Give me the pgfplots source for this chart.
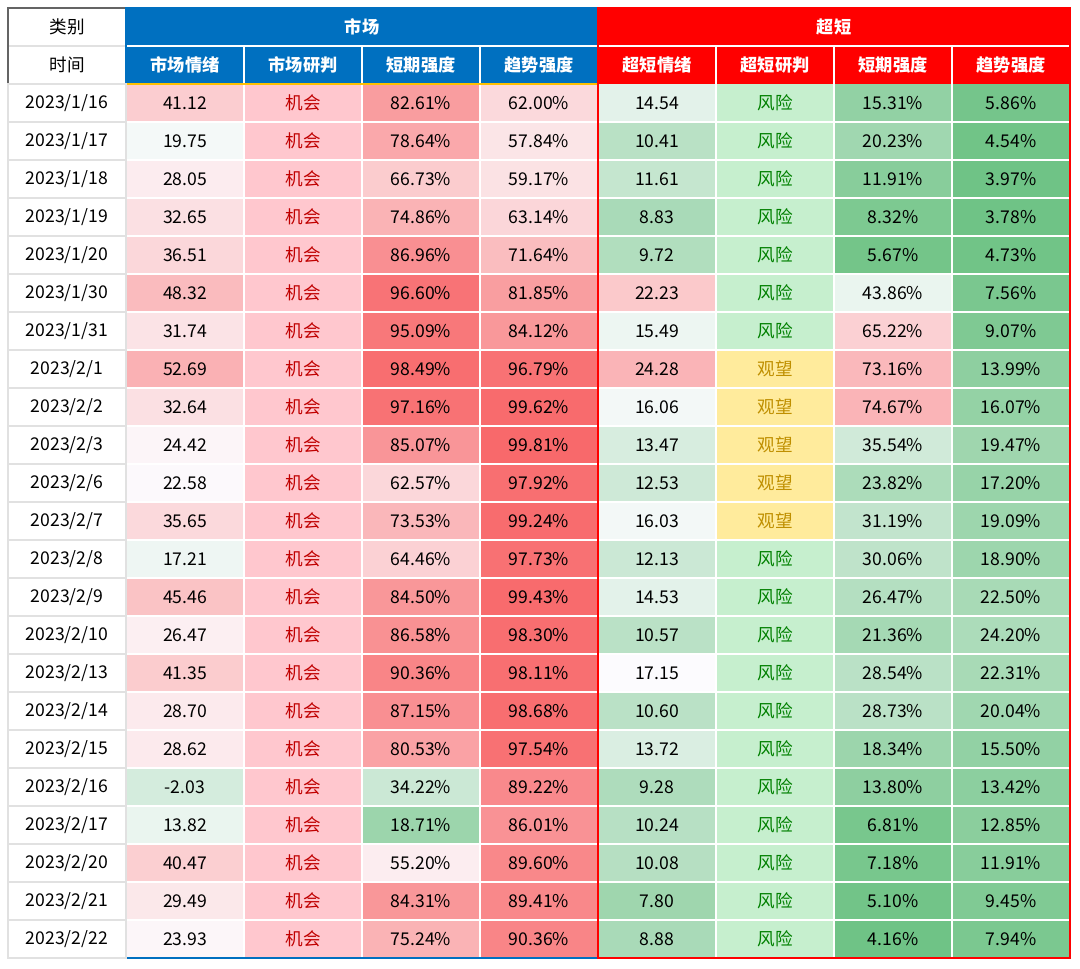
\documentclass[border=0pt]{standalone}
\usepackage{pgfplots}
\pgfplotsset{compat=1.18}
\usepackage{pgfplotstable}
\usepackage{fontspec}
\setmainfont{Noto Sans CJK SC}
\definecolor{hdrBlue}{RGB}{0,112,192}
\definecolor{hdrRed}{RGB}{255,0,0}
\definecolor{t机会}{RGB}{192,0,0}
\definecolor{t风险}{RGB}{0,128,0}
\definecolor{t观望}{RGB}{191,143,0}
\definecolor{goldline}{RGB}{255,192,0}
\definecolor{frameGray}{RGB}{100,100,100}
\definecolor{rowline}{RGB}{225,225,225}

\newcommand\dfont{\fontsize{8.8}{10}\selectfont}
\newcommand\hfont{\fontsize{8.6}{10}\selectfont\bfseries}

\pgfdeclareplotmark{cell}{%
  \pgfpathrectangle{\pgfpoint{-29.5pt}{-9.5pt}}{\pgfpoint{59pt}{19pt}}%
  \pgfusepathqfillstroke}

% values shown in the table
\pgfplotstableread{
r date mq mj mp mt sq sj sp st
0 2023/1/16 41.12 机会 82.61 62.00 14.54 风险 15.31 5.86
1 2023/1/17 19.75 机会 78.64 57.84 10.41 风险 20.23 4.54
2 2023/1/18 28.05 机会 66.73 59.17 11.61 风险 11.91 3.97
3 2023/1/19 32.65 机会 74.86 63.14 8.83 风险 8.32 3.78
4 2023/1/20 36.51 机会 86.96 71.64 9.72 风险 5.67 4.73
5 2023/1/30 48.32 机会 96.60 81.85 22.23 风险 43.86 7.56
6 2023/1/31 31.74 机会 95.09 84.12 15.49 风险 65.22 9.07
7 2023/2/1 52.69 机会 98.49 96.79 24.28 观望 73.16 13.99
8 2023/2/2 32.64 机会 97.16 99.62 16.06 观望 74.67 16.07
9 2023/2/3 24.42 机会 85.07 99.81 13.47 观望 35.54 19.47
10 2023/2/6 22.58 机会 62.57 97.92 12.53 观望 23.82 17.20
11 2023/2/7 35.65 机会 73.53 99.24 16.03 观望 31.19 19.09
12 2023/2/8 17.21 机会 64.46 97.73 12.13 风险 30.06 18.90
13 2023/2/9 45.46 机会 84.50 99.43 14.53 风险 26.47 22.50
14 2023/2/10 26.47 机会 86.58 98.30 10.57 风险 21.36 24.20
15 2023/2/13 41.35 机会 90.36 98.11 17.15 风险 28.54 22.31
16 2023/2/14 28.70 机会 87.15 98.68 10.60 风险 28.73 20.04
17 2023/2/15 28.62 机会 80.53 97.54 13.72 风险 18.34 15.50
18 2023/2/16 -2.03 机会 34.22 89.22 9.28 风险 13.80 13.42
19 2023/2/17 13.82 机会 18.71 86.01 10.24 风险 6.81 12.85
20 2023/2/20 40.47 机会 55.20 89.60 10.08 风险 7.18 11.91
21 2023/2/21 29.49 机会 84.31 89.41 7.80 风险 5.10 9.45
22 2023/2/22 23.93 机会 75.24 90.36 8.88 风险 4.16 7.94
}\data

% cell colour levels (-1 green .. 0 white .. 1 red; 2.5 = 机会, 4.5 = 风险, 6.5 = 观望)
\pgfplotstableread{
x y c
1 0 0.32
2 0 2.5
3 0 0.65
4 0 0.24
5 0 -0.16
6 0 4.5
7 0 -0.69
8 0 -0.88
1 1 -0.05
2 1 2.5
3 1 0.57
4 1 0.16
5 1 -0.44
6 1 4.5
7 1 -0.60
8 1 -0.91
1 2 0.11
2 2 2.5
3 2 0.33
4 2 0.18
5 2 -0.36
6 2 4.5
7 2 -0.76
8 2 -0.92
1 3 0.19
2 3 2.5
3 3 0.50
4 3 0.26
5 3 -0.54
6 3 4.5
7 3 -0.83
8 3 -0.92
1 4 0.25
2 4 2.5
3 4 0.74
4 4 0.43
5 4 -0.49
6 4 4.5
7 4 -0.89
8 4 -0.91
1 5 0.44
2 5 2.5
3 5 0.93
4 5 0.64
5 5 0.35
6 5 4.5
7 5 -0.12
8 5 -0.85
1 6 0.17
2 6 2.5
3 6 0.90
4 6 0.68
5 6 -0.10
6 6 4.5
7 6 0.30
8 6 -0.82
1 7 0.51
2 7 2.5
3 7 0.97
4 7 0.94
5 7 0.49
6 7 6.5
7 7 0.46
8 7 -0.72
1 8 0.19
2 8 2.5
3 8 0.94
4 8 0.99
5 8 -0.06
6 8 6.5
7 8 0.49
8 8 -0.68
1 9 0.05
2 9 2.5
3 9 0.70
4 9 1.00
5 9 -0.24
6 9 6.5
7 9 -0.29
8 9 -0.61
1 10 0.02
2 10 2.5
3 10 0.25
4 10 0.96
5 10 -0.30
6 10 6.5
7 10 -0.52
8 10 -0.66
1 11 0.24
2 11 2.5
3 11 0.47
4 11 0.98
5 11 -0.06
6 11 6.5
7 11 -0.38
8 11 -0.62
1 12 -0.09
2 12 2.5
3 12 0.29
4 12 0.95
5 12 -0.32
6 12 4.5
7 12 -0.40
8 12 -0.62
1 13 0.39
2 13 2.5
3 13 0.69
4 13 0.99
5 13 -0.16
6 13 4.5
7 13 -0.47
8 13 -0.55
1 14 0.09
2 14 2.5
3 14 0.73
4 14 0.97
5 14 -0.43
6 14 4.5
7 14 -0.57
8 14 -0.52
1 15 0.33
2 15 2.5
3 15 0.81
4 15 0.96
5 15 0.01
6 15 4.5
7 15 -0.43
8 15 -0.55
1 16 0.12
2 16 2.5
3 16 0.74
4 16 0.97
5 16 -0.43
6 16 4.5
7 16 -0.43
8 16 -0.60
1 17 0.12
2 17 2.5
3 17 0.61
4 17 0.95
5 17 -0.22
6 17 4.5
7 17 -0.63
8 17 -0.69
1 18 -0.26
2 18 2.5
3 18 -0.32
4 18 0.78
5 18 -0.51
6 18 4.5
7 18 -0.72
8 18 -0.73
1 19 -0.12
2 19 2.5
3 19 -0.63
4 19 0.72
5 19 -0.45
6 19 4.5
7 19 -0.86
8 19 -0.74
1 20 0.31
2 20 2.5
3 20 0.10
4 20 0.79
5 20 -0.46
6 20 4.5
7 20 -0.86
8 20 -0.76
1 21 0.14
2 21 2.5
3 21 0.69
4 21 0.79
5 21 -0.61
6 21 4.5
7 21 -0.90
8 21 -0.81
1 22 0.04
2 22 2.5
3 22 0.50
4 22 0.81
5 22 -0.54
6 22 4.5
7 22 -0.92
8 22 -0.84
}\levels

\pgfplotsset{
  txt/.style={only marks, mark=none, point meta=explicit symbolic,
    nodes near coords={\pgfplotspointmeta},
    every node near coord/.append style={anchor=center, text=black, font=\dfont}},
  txtpct/.style={txt, nodes near coords={\pgfplotspointmeta\%}},
  txtcat/.style={txt, nodes near coords={\color{t\pgfplotspointmeta}\pgfplotspointmeta}},
}

\begin{document}
\begin{tikzpicture}
\begin{axis}[scale only axis, width=540pt, height=484pt,
  xmin=-0.5678, xmax=8.5847, ymin=-2.7105, ymax=22.763, y dir=reverse,
  hide axis, clip=false,
  colormap={tbl}{rgb255(0cm)=(99,190,123) rgb255(1cm)=(252,252,255) rgb255(2cm)=(248,105,107)
    rgb255(3cm)=(255,199,206) rgb255(4cm)=(255,199,206)
    rgb255(5cm)=(198,239,206) rgb255(6cm)=(198,239,206)
    rgb255(7cm)=(255,235,156) rgb255(8cm)=(255,235,156)},
  point meta min=-1, point meta max=7]
\path (rel axis cs:0,0) rectangle (rel axis cs:1,1);
% coloured cells
\addplot[matrix plot*, mesh/cols=8, point meta=explicit] table[x=x, y=y, meta=c] {\levels};
% white grid between cells
\pgfplotsinvokeforeach{1.5,2.5,3.5,5.5,6.5,7.5}{
  \draw[white, line width=0.7pt] (axis cs:#1,-0.5) -- (axis cs:#1,22.5);
}
\pgfplotsinvokeforeach{0.5,1.5,2.5,3.5,4.5,5.5,6.5,7.5,8.5,9.5,10.5,11.5,12.5,13.5,14.5,15.5,16.5,17.5,18.5,19.5,20.5,21.5}{
  \draw[white, line width=0.7pt] (axis cs:0.5,#1) -- (axis cs:8.5,#1);
}
% date column
\addplot[only marks, mark=cell, mark options={fill=white, draw=rowline, line width=0.7pt},
  point meta=explicit symbolic, nodes near coords={\pgfplotspointmeta},
  every node near coord/.append style={anchor=center, text=black, font=\dfont}]
  table[x expr=0, y=r, meta=date] {\data};
% cell texts
\addplot[txt] table[x expr=1, y=r, meta=mq] {\data};
\addplot[txtcat] table[x expr=2, y=r, meta=mj] {\data};
\addplot[txtpct] table[x expr=3, y=r, meta=mp] {\data};
\addplot[txtpct] table[x expr=4, y=r, meta=mt] {\data};
\addplot[txt] table[x expr=5, y=r, meta=sq] {\data};
\addplot[txtcat] table[x expr=6, y=r, meta=sj] {\data};
\addplot[txtpct] table[x expr=7, y=r, meta=sp] {\data};
\addplot[txtpct] table[x expr=8, y=r, meta=st] {\data};

% headers
\fill[hdrBlue] (axis cs:0.5,-2.5) rectangle (axis cs:4.5,-0.5);
\fill[hdrRed] (axis cs:4.5,-2.5) rectangle (axis cs:8.5,-0.5);
\draw[white, line width=0.6pt] (axis cs:0.5,-1.5) -- (axis cs:8.5,-1.5);
\pgfplotsinvokeforeach{1.5,2.5,3.5,5.5,6.5,7.5}{
  \draw[white, line width=0.6pt] (axis cs:#1,-1.5) -- (axis cs:#1,-0.5);
}
\draw[rowline, line width=0.7pt] (axis cs:-0.5,-1.5) -- (axis cs:0.5,-1.5);
\node[text=black, font=\dfont] at (axis cs:0,-2) {类别};
\node[text=black, font=\dfont] at (axis cs:0,-1) {时间};
\node[text=white, font=\hfont] at (axis cs:2.5,-2) {市场};
\node[text=white, font=\hfont] at (axis cs:6.5,-2) {超短};
\node[text=white, font=\hfont] at (axis cs:1,-1) {市场情绪};
\node[text=white, font=\hfont] at (axis cs:2,-1) {市场研判};
\node[text=white, font=\hfont] at (axis cs:3,-1) {短期强度};
\node[text=white, font=\hfont] at (axis cs:4,-1) {趋势强度};
\node[text=white, font=\hfont] at (axis cs:5,-1) {超短情绪};
\node[text=white, font=\hfont] at (axis cs:6,-1) {超短研判};
\node[text=white, font=\hfont] at (axis cs:7,-1) {短期强度};
\node[text=white, font=\hfont] at (axis cs:8,-1) {趋势强度};

% borders
\draw[goldline, line width=1pt] (axis cs:0.5,-0.5) -- (axis cs:4.5,-0.5);
\draw[frameGray, line width=1pt] (axis cs:0.5,-2.5) -- (axis cs:-0.5,-2.5) -- (axis cs:-0.5,22.5) -- (axis cs:0.5,22.5);
\draw[frameGray, line width=1pt] (axis cs:-0.5,-0.5) -- (axis cs:0.5,-0.5);
\draw[hdrBlue, line width=1pt] (axis cs:0.5,-2.5) rectangle (axis cs:4.5,22.5);
\draw[hdrRed, line width=1pt] (axis cs:4.5,-2.5) rectangle (axis cs:8.5,22.5);
\end{axis}
\end{tikzpicture}
\end{document}
